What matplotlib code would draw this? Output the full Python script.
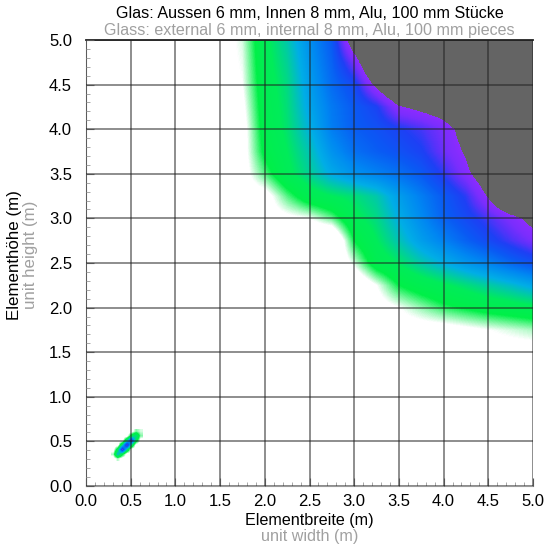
import numpy as np
import matplotlib.pyplot as plt
from matplotlib.colors import LinearSegmentedColormap, Normalize

plt.rcParams['font.family'] = ['Liberation Sans', 'DejaVu Sans']

title_de = 'Glas: Aussen 6 mm, Innen 8 mm, Alu, 100 mm Stücke'
title_en = 'Glass: external 6 mm, internal 8 mm, Alu, 100 mm pieces'
xlabel_de = 'Elementbreite (m)'
xlabel_en = 'unit width (m)'
ylabel_de = 'Elementhöhe (m)'
ylabel_en = 'unit height (m)'

tick_vals = [0.0, 0.5, 1.0, 1.5, 2.0, 2.5, 3.0, 3.5, 4.0, 4.5, 5.0]
tick_labels = ['0.0', '0.5', '1.0', '1.5', '2.0', '2.5', '3.0', '3.5', '4.0', '4.5', '5.0']

# colour level every 0.25 m
# (0 white, 1 green, 2 cyan, 3 blue, 4 purple, above -> grey)
# columns: width 1.75 .. 5.00
widths = [1.75, 2.0, 2.25, 2.5, 2.75, 3.0, 3.25, 3.5, 3.75, 4.0, 4.25, 4.5, 4.75, 5.0]
# rows: height 5.00 .. 1.75
heights = [5.0, 4.75, 4.5, 4.25, 4.0, 3.75, 3.5, 3.25, 3.0, 2.75, 2.5, 2.25, 2.0, 1.75]
levels = [
    [0.3, 1.2, 1.7, 2.4, 3.0, 4.5, 5, 5, 5, 5, 5, 5, 5, 5],
    [0.25, 1.15, 1.6, 2.3, 2.9, 3.75, 5, 5, 5, 5, 5, 5, 5, 5],
    [0.2, 1.1, 1.5, 2.2, 2.8, 3.2, 4.2, 5, 5, 5, 5, 5, 5, 5],
    [0.1, 1.05, 1.45, 2.1, 2.65, 3.0, 3.3, 4.0, 4.2, 4.4, 5, 5, 5, 5],
    [0, 1.0, 1.4, 1.95, 2.6, 2.95, 3.1, 3.3, 3.5, 3.8, 4.3, 5, 5, 5],
    [0, 0.9, 1.3, 1.75, 2.35, 2.75, 2.95, 3.1, 3.3, 3.7, 4.12, 5, 5, 5],
    [0, 0.6, 1.2, 1.6, 2.05, 2.35, 2.55, 2.75, 3.0, 3.4, 3.9, 4.5, 5, 5],
    [0, 0.0, 0.6, 1.1, 1.3, 1.45, 1.7, 2.2, 2.6, 3.0, 3.4, 4.1, 5, 5],
    [0, 0, 0.1, 0.2, 0.55, 1.2, 1.5, 2.0, 2.45, 2.9, 3.2, 3.5, 3.85, 4.25],
    [0, 0, 0, -0.3, -0.5, 0.8, 1.3, 1.75, 2.2, 2.55, 2.9, 3.2, 3.5, 3.8],
    [0, 0, 0, 0, -0.3, 0.3, 1.05, 1.35, 1.7, 2.0, 2.3, 2.55, 2.85, 3.1],
    [0, 0, 0, 0, 0, -0.3, 0.2, 0.8, 1.05, 1.25, 1.45, 1.65, 1.85, 2.1],
    [0, 0, 0, 0, 0, 0, 0, 0.2, 0.45, 0.7, 0.85, 1.0, 1.1, 1.2],
    [0, 0, 0, 0, 0, 0, 0, 0, 0, 0.0, 0.1, 0.2, 0.3, 0.4],
]

# small spot near 0.45 x 0.45 m, sampled every 0.05 m (x 0.30..0.60, y 0.30..0.60)
spot = [
    [0, 0.4, 0, 0, 0, 0, 0],
    [0.4, 2.0, 1.0, 0, 0, 0, 0],
    [0, 1.2, 3.7, 1.5, 0, 0, 0],
    [0, 0, 1.6, 3.9, 1.5, 0, 0],
    [0, 0, 0, 1.5, 3.5, 1.2, 0],
    [0, 0, 0, 0, 1.1, 1.6, 0.5],
    [0, 0, 0, 0, 0, 0.5, 0.3],
]
spot_x = [0.30, 0.60]
spot_y = [0.30, 0.60]

step = 0.25
n = int(round(5.0 / step)) + 1
field = np.zeros((n, n))
for r, h in enumerate(heights):
    for c, w in enumerate(widths):
        field[int(round(h / step)), int(round(w / step))] = levels[r][c]

top = 4.05
cmap = LinearSegmentedColormap.from_list('glas', [
    (0.0, '#ffffff'),
    (0.2 / top, '#ffffff'),
    (0.8 / top, '#00f048'),
    (1.3 / top, '#00ec5a'),
    (2.0 / top, '#00aee6'),
    (2.5 / top, '#0088f2'),
    (3.0 / top, '#0a5af4'),
    (3.35 / top, '#1e40f5'),
    (3.6 / top, '#5a32fa'),
    (3.8 / top, '#7a2efd'),
    (1.0, '#8c2cff'),
])
cmap.set_under('#ffffff')
cmap.set_over('#646464')
norm = Normalize(vmin=0.0, vmax=top)

fig = plt.figure(figsize=(5.45, 5.44), dpi=100)
ax = fig.add_axes([86 / 545, 58 / 544, 447 / 545, 446 / 544])

half = step / 2
ax.imshow(field, origin='lower', cmap=cmap, norm=norm, interpolation='bilinear',
          interpolation_stage='data', extent=[-half, 5 + half, -half, 5 + half],
          aspect='auto', zorder=0)
ds = 0.025
ax.imshow(np.array(spot), origin='lower', cmap=cmap, norm=norm, interpolation='bilinear',
          interpolation_stage='data',
          extent=[spot_x[0] - ds, spot_x[1] + ds, spot_y[0] - ds, spot_y[1] + ds],
          aspect='auto', zorder=0.5)

ax.set_xlim(0, 5)
ax.set_ylim(0, 5)
ax.set_xticks(tick_vals)
ax.set_xticklabels(tick_labels)
ax.set_yticks(tick_vals)
ax.set_yticklabels(tick_labels)
ax.set_xticks(np.arange(0, 5.01, 0.1), minor=True)
ax.set_yticks(np.arange(0, 5.01, 0.1), minor=True)
ax.tick_params(which='major', direction='in', length=6, color='#555555', labelsize=12)
ax.tick_params(axis='y', which='major', pad=10)
ax.tick_params(axis='x', which='major', pad=6)
ax.tick_params(which='minor', direction='in', length=3, color='#999999')
ax.grid(True, which='major', color='#202020', alpha=0.55, linewidth=1.3)
ax.set_axisbelow(False)

for side in ['left', 'bottom']:
    ax.spines[side].set_color('#999999')
ax.spines['top'].set_color('#222222')
ax.spines['top'].set_linewidth(1.3)
ax.spines['right'].set_visible(False)

cx = 0.5 * (86 + 533) / 545
fs = 11.6
fig.text(cx, 1 - 13 / 544, title_de, ha='center', va='center', fontsize=fs, color='black')
fig.text(cx, 1 - 31 / 544, title_en, ha='center', va='center', fontsize=fs, color='#a0a0a0')
fig.text(cx, 1 - 520 / 544, xlabel_de, ha='center', va='center', fontsize=fs, color='black')
fig.text(cx, 1 - 537 / 544, xlabel_en, ha='center', va='center', fontsize=fs, color='#a0a0a0')
fig.text(15 / 545, 1 - 255 / 544, ylabel_de, ha='center', va='center', rotation=90, fontsize=12.2, color='black')
fig.text(31 / 545, 1 - 255 / 544, ylabel_en, ha='center', va='center', rotation=90, fontsize=12.2, color='#a0a0a0')

fig.savefig('out.png', dpi=100)
